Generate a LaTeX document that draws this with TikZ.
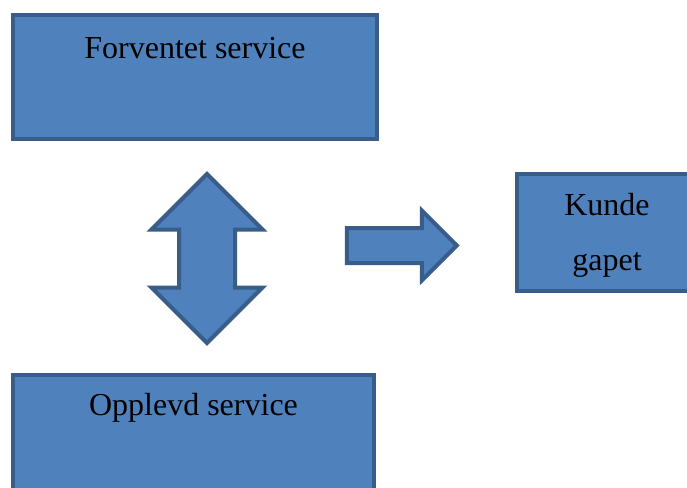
\documentclass[tikz,border=0pt]{standalone}
\usepackage{fontspec}
\setmainfont{Liberation Serif}
\usetikzlibrary{shapes,arrows}
\definecolor{boxblue}{HTML}{4F81BD}
\definecolor{boxedge}{HTML}{385D8A}
\tikzstyle{block} = [rectangle, draw=boxedge, fill=boxblue, line width=2pt,
                inner sep=0pt, align=center, font=\fontsize{16}{27.5}\selectfont]
\tikzstyle{bigarrow} = [draw=boxedge, fill=boxblue, line width=2pt]
\begin{document}
\begin{tikzpicture}[x=0.5pt,y=-0.5pt]
        \useasboundingbox (0,0) rectangle (687,488);
        \node[block, minimum width=182pt, minimum height=62pt, text height=21.5pt, text depth=40.5pt](forventet) at (195,77){Forventet service};
        \node[block, minimum width=180.5pt, minimum height=62pt, text height=20pt, text depth=42pt](opplevd) at (193.5,437){Opplevd service};
        \node[block, minimum width=90pt, minimum height=58.5pt, text height=48pt, text depth=10.5pt](gap) at (607,232.5){Kunde\\gapet};
        \node[bigarrow, double arrow, shape border rotate=90, inner sep=13pt, double arrow head extend=13.75pt, minimum height=84.5pt](compare) at (207,258.5){};
        \node[bigarrow, single arrow, inner sep=7.75pt, single arrow head extend=8.75pt, minimum height=55pt](result) at (393,245.5){};
    \end{tikzpicture}
\end{document}
